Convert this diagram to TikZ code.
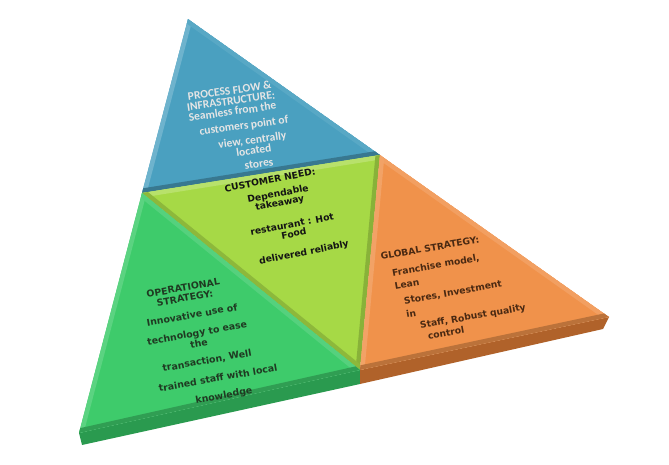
\documentclass[tikz,border=0pt]{standalone}
\usepackage{fontspec}
\setmainfont{DejaVu Sans}
\newfontfamily\calfont{Carlito}
\newfontfamily\heavyfont{DejaVu Sans}
\definecolor{cblue}{HTML}{4AA0C0}
\definecolor{cyel}{HTML}{A6D946}
\definecolor{cgreen}{HTML}{3ECB6B}
\definecolor{corange}{HTML}{F0924B}
\definecolor{gside}{HTML}{2A9A4F}
\definecolor{oside}{HTML}{B0622A}
\definecolor{gtxt}{HTML}{4A2912}
\definecolor{otxt}{HTML}{1F3A22}
\tikzset{
  bev/.style={line width=9pt},
  bluetxt/.style={font=\calfont\bfseries\fontsize{11.5}{10.5}\selectfont, text=white!90!black, rotate=8, inner sep=0pt, align=center},
  needtxt/.style={font=\heavyfont\bfseries\fontsize{9.2}{9.5}\selectfont, text=black!92, rotate=11, inner sep=0pt, align=center},
  globtxt/.style={font=\heavyfont\bfseries\fontsize{9.2}{10}\selectfont, text=gtxt, rotate=10, inner sep=0pt},
  opertxt/.style={font=\heavyfont\bfseries\fontsize{9.4}{10.5}\selectfont, text=otxt, rotate=10, inner sep=0pt, align=center},
}
\begin{document}
\begin{tikzpicture}[x=1pt,y=-1pt]
\useasboundingbox (0,0) rectangle (669,465);
% corners of the top surface
\coordinate (A) at (188,19);
\coordinate (L) at (142,193);
\coordinate (R) at (380,155);
\coordinate (M) at (360,370);
\coordinate (B) at (79,433);
\coordinate (C) at (609,317);
% lower edge of the slab
\coordinate (Bb) at (82,445);
\coordinate (Mb) at (360,384);
\coordinate (Cb) at (603,329);
% slab thickness
\fill[gside] (B) -- (M) -- (Mb) -- (Bb) -- cycle;
\fill[oside] (M) -- (C) -- (Cb) -- (Mb) -- cycle;
% blue
\begin{scope}
  \clip (A) -- (L) -- (R) -- cycle;
  \fill[cblue] (A) -- (L) -- (R) -- cycle;
  \draw[bev, cblue!80!white] (A) -- (L);
  \draw[bev, cblue!92!white] (A) -- (R);
  \draw[bev, cblue!75!black] (L) -- (R);
\end{scope}
% centre
\begin{scope}
  \clip (L) -- (R) -- (M) -- cycle;
  \fill[cyel] (L) -- (R) -- (M) -- cycle;
  \draw[bev, cyel!80!white] (L) -- (R);
  \draw[bev, cyel!82!black] (R) -- (M);
  \draw[bev, cyel!85!black] (L) -- (M);
\end{scope}
% green
\begin{scope}
  \clip (L) -- (M) -- (B) -- cycle;
  \fill[cgreen] (L) -- (M) -- (B) -- cycle;
  \draw[bev, cgreen!85!white] (L) -- (B);
  \draw[bev, cgreen!88!white] (L) -- (M);
  \draw[bev, cgreen!78!black] (B) -- (M);
\end{scope}
% orange
\begin{scope}
  \clip (R) -- (C) -- (M) -- cycle;
  \fill[corange] (R) -- (C) -- (M) -- cycle;
  \draw[bev, corange!88!white] (R) -- (C);
  \draw[bev, corange!85!white] (R) -- (M);
  \draw[bev, corange!78!black] (C) -- (M);
\end{scope}
% process flow text
\node[bluetxt] (p1) at (231,101) {PROCESS FLOW \&\\INFRASTRUCTURE:\\Seamless from the};
\node[bluetxt] (p4) at (244,126) {customers point of};
\node[bluetxt] (p5) at (253,145) {view, centrally\\located};
\node[bluetxt] (p7) at (259,164) {stores};
% customer need text
\node[needtxt] (n1) at (270,180) {CUSTOMER NEED:};
\node[needtxt] (n2) at (279,199) {Dependable\\takeaway};
\node[needtxt] (n4) at (293,229) {restaurant : Hot\\Food};
\node[needtxt] (n6) at (304,253) {delivered reliably};
% global strategy text
\node[globtxt] (g1) at (430,248) {GLOBAL STRATEGY:};
\node[globtxt, align=left] (g2) at (437,272) {Franchise model,\\[4pt]Lean};
\node[globtxt, align=left] (g4) at (454,299) {Stores, Investment\\[4pt]in};
\node[globtxt] (g6) at (473,317) {Staff, Robust quality};
\node[globtxt] (g7) at (446,333) {control};
% operational strategy text
\node[opertxt] (o1) at (184,293) {OPERATIONAL\\STRATEGY:};
\node[opertxt] (o3) at (192,315) {Innovative use of};
\node[opertxt] (o4) at (198,338) {technology to ease\\the};
\node[opertxt] (o6) at (207,361) {transaction, Well};
\node[opertxt] (o7) at (218,378) {trained staff with local};
\node[opertxt] (o8) at (224,396) {knowledge};
\end{tikzpicture}
\end{document}
